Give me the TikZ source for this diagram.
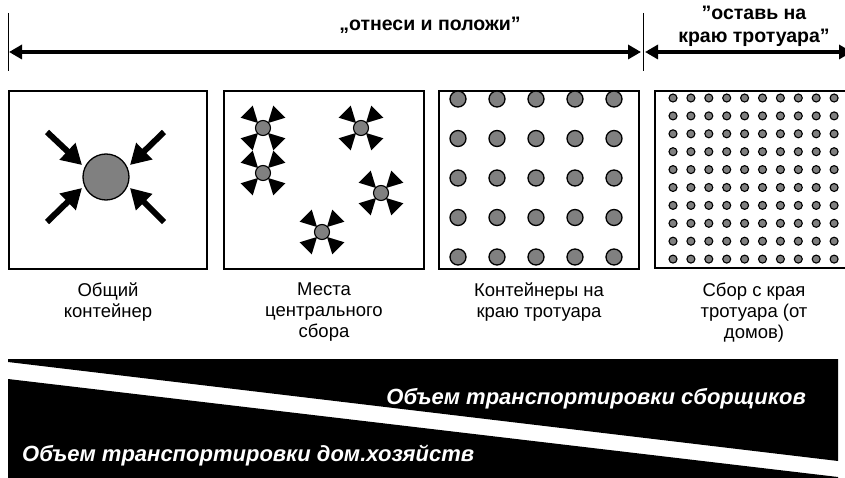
\documentclass[tikz,border=0pt]{standalone}
\usepackage{fontspec}
\setmainfont{Liberation Sans}
\usetikzlibrary{arrows.meta}
\definecolor{bingray}{RGB}{128,128,128}
\begin{document}
\begin{tikzpicture}[x=1pt,y=-1pt,
  panel/.style={draw=black,line width=1.3pt},
  bin/.style={fill=bingray,draw=black,line width=1.3pt},
  smallbin/.style={fill=bingray,draw=black,line width=1.1pt},
  caption/.style={font=\fontsize{18.5}{21}\selectfont,align=center,anchor=north,inner sep=0pt},
  headtext/.style={font=\fontsize{19.5}{23}\bfseries\selectfont,align=center,inner sep=0pt},
  bandtext/.style={font=\fontsize{22}{26}\bfseries\itshape\selectfont,text=white,inner sep=0pt},
  span/.style={line width=4pt,{Triangle[length=13pt,width=14pt]}-{Triangle[length=13pt,width=14pt]}},
  inarrow/.style={line width=6pt,-{Triangle[length=20pt,width=22pt]}},
  tick/.style={line width=0.8pt}
]
\useasboundingbox (0,0) rectangle (845,478);
\begin{scope}
\clip (0,0) rectangle (845,478);

% header: the two ranges
\coordinate (t1a) at (8,13);   \coordinate (t1b) at (8,71);
\coordinate (t2a) at (643,13); \coordinate (t2b) at (643,71);
\draw[tick] (t1a) -- (t1b);
\draw[tick] (t2a) -- (t2b);
\coordinate (hl) at (9,52);  \coordinate (hm1) at (641,52);
\coordinate (hm2) at (645,52); \coordinate (hr) at (852,52);
\draw[span] (hl) -- (hm1);
\draw[span] (hm2) -- (hr);
\node[headtext] (carry) at (430,25) {„отнеси и положи”};
\node[headtext] (curb) at (754,26) {”оставь на\\краю тротуара”};

% panel frames
\draw[panel] (9,91) rectangle (207,269);
\draw[panel] (224,91) rectangle (424,269);
\draw[panel] (439,91) rectangle (639,269);
\draw[panel] (655,91) rectangle (860,268);

% panel 1: one common container
\node[bin,circle,minimum size=46pt,inner sep=0pt] (common) at (106,177) {};
\coordinate (ulT) at (47,132);  \coordinate (ulH) at (82,165);
\coordinate (urT) at (164,132); \coordinate (urH) at (130,165);
\coordinate (llT) at (47,222);  \coordinate (llH) at (82,188);
\coordinate (lrT) at (164,222); \coordinate (lrH) at (130,188);
\draw[inarrow] (ulT) -- (ulH);
\draw[inarrow] (urT) -- (urH);
\draw[inarrow] (llT) -- (llH);
\draw[inarrow] (lrT) -- (lrH);

% panel 2: central collection points
\foreach \cx/\cy in {263/128, 361/128, 263/173, 381/193, 322/232}{
  \begin{scope}[shift={(\cx,\cy)}]
    \foreach \a in {45,135,225,315}
      \fill[rotate=\a] (7,0) -- (23,8.5) -- (23,-8.5) -- cycle;
    \draw[smallbin] (0,0) circle (7.5);
  \end{scope}
}

% panel 3: curbside containers
\foreach \i in {0,...,4}
  \foreach \j in {0,...,4}
    \draw[bin] (458+39*\i, 99+39.5*\j) circle (8);

% panel 4: curbside collection from houses
\foreach \i in {0,...,9}
  \foreach \j in {0,...,9}
    \draw[smallbin] (673+17.9*\i, 98+17.9*\j) circle (4);

% captions
\node[caption] (c1) at (108,283) {Общий\\контейнер};
\node[caption] (c2) at (324,283) {Места\\центрального\\сбора};
\node[caption] (c3) at (539,283) {Контейнеры на\\краю тротуара};
\node[caption] (c4) at (754,283) {Сбор с края\\тротуара (от\\домов)};

% bottom band split by a white diagonal
\fill (8,359) -- (838,359) -- (838,461) -- (8,362) -- cycle;
\fill (8,379) -- (838,477) -- (838,480) -- (8,480) -- cycle;
\node[bandtext,anchor=east] (collectors) at (806,399) {Объем транспортировки сборщиков};
\node[bandtext,anchor=west] (households) at (22,456) {Объем транспортировки дом.хозяйств};
\end{scope}
\end{tikzpicture}
\end{document}
